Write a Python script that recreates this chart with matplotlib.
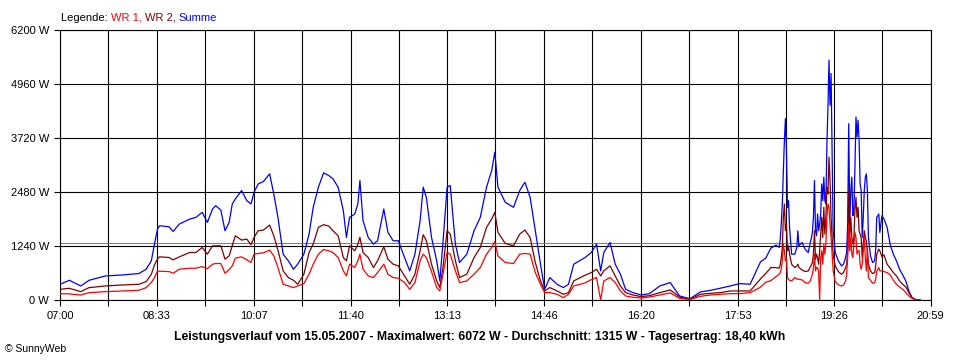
import matplotlib
matplotlib.use("Agg")
import matplotlib.pyplot as plt

zeiten = [
    "07:00", "07:09", "07:20", "07:28", "07:44", "08:00", "08:16", "08:23", "08:28", "08:31",
    "08:34", "08:36", "08:45", "08:49", "08:55", "09:05", "09:11", "09:17", "09:22", "09:27",
    "09:30", "09:35", "09:39", "09:43", "09:46",
    "09:49", "09:55", "10:00", "10:04", "10:07", "10:11", "10:16", "10:22", "10:26", "10:30",
    "10:35", "10:40", "10:45", "10:49", "10:55", "11:00", "11:04", "11:09", "11:14", "11:19",
    "11:23", "11:28", "11:33", "11:36", "11:39", "11:44", "11:47", "11:49", "11:52", "11:57",
    "12:02", "12:06", "12:12", "12:16", "12:21", "12:26",
    "12:32", "12:37", "12:42", "12:47", "12:50", "12:53", "12:58", "13:03", "13:06", "13:09",
    "13:13", "13:16", "13:21", "13:25", "13:32", "13:39", "13:45", "13:51", "13:56", "13:59",
    "14:02", "14:09", "14:17", "14:23", "14:28", "14:33", "14:38", "14:43", "14:47", "14:52",
    "14:59", "15:05", "15:10", "15:15",
    "15:26", "15:32", "15:37", "15:41", "15:44", "15:50", "15:55", "16:00", "16:05", "16:12",
    "16:20", "16:28", "16:38", "16:48", "16:57", "17:07", "17:17", "17:27", "17:36", "17:46",
    "17:55", "18:05",
    "18:15", "18:20", "18:25", "18:30", "18:33", "18:34", "18:35", "18:36", "18:37", "18:38",
    "18:39", "18:40", "18:41", "18:42", "18:43", "18:45", "18:48", "18:50", "18:51", "18:52",
    "18:55", "18:58", "19:01", "19:03", "19:04", "19:05", "19:06", "19:07", "19:08", "19:09",
    "19:10", "19:11", "19:12", "19:13", "19:14", "19:15", "19:16", "19:17", "19:18", "19:19",
    "19:20", "19:21", "19:22", "19:23", "19:24", "19:25", "19:27", "19:30", "19:33", "19:35",
    "19:37", "19:38", "19:39", "19:40", "19:41", "19:42", "19:43", "19:44", "19:45", "19:46",
    "19:47", "19:48", "19:49", "19:50", "19:51", "19:52", "19:53", "19:54", "19:55", "19:56",
    "19:57", "19:58", "19:59", "20:01", "20:03", "20:05", "20:06", "20:07", "20:09", "20:10",
    "20:12", "20:14", "20:17", "20:20", "20:23", "20:26", "20:29", "20:32", "20:35", "20:38",
    "20:41", "20:44", "20:47", "20:49",
]

summe = [
    361, 453, 322, 453, 553, 575, 607, 707, 899, 1283,
    1629, 1705, 1682, 1575, 1744, 1859, 1897, 2013, 1782, 2089,
    2166, 2066, 1590, 1782, 2205,
    2321, 2513, 2282, 2205, 2474, 2666, 2720, 2897, 2436, 1898,
    1053, 899, 707, 822, 1053, 1514, 2128, 2590, 2920, 2858,
    2782, 2590, 2052, 1437, 1898, 1975, 2205, 2743, 1821, 1437,
    1283, 1360, 2090, 1552, 1360, 1360,
    976, 669, 1053, 1821, 2590, 2359, 1437, 899, 438, 1322,
    2590, 2628, 1283, 861, 1053, 1591, 1898, 2590, 2974, 3396,
    2590, 2244, 2128, 2513, 2705, 2359, 1591, 822, 246, 515,
    361, 285, 361, 822,
    976, 1091, 1283, 669, 1091, 1322, 822, 592, 246, 169,
    115, 146, 323, 400, 92, 31, 184, 223, 269, 323,
    377, 361,
    876, 960, 1191, 1260, 1206, 1398, 1744, 2205, 2973, 3665,
    4164, 3434, 2128, 2282, 1667, 1052, 1052, 1206, 1590, 1245,
    1321, 1168, 1091, 1321, 1421, 1552, 1898, 2743, 1590, 1475,
    1974, 1590, 1744, 1974, 2666, 2282, 2820, 2282, 2205, 3588,
    4433, 5508, 4471, 5201, 3434, 1590, 1091, 899, 783, 822,
    976, 1091, 1744, 4049, 1744, 2512, 2820, 1936, 2052, 3050,
    4203, 3742, 4126, 3665, 2666, 2512, 1436, 1898, 2512, 2820,
    2896, 2512, 1436, 1014, 860, 899, 1168, 1898, 1974, 1552,
    1936, 1859, 1667, 1267, 1052, 899, 707, 576, 438, 207,
    54, 15, 0, 0,
]

wr2 = [
    246, 269, 192, 284, 323, 345, 361, 422, 591, 800,
    950, 991, 976, 922, 991, 1091, 1091, 1206, 1052, 1244,
    1244, 1244, 937, 1014, 1250,
    1475, 1376, 1399, 1268, 1437, 1591, 1606, 1721, 1475, 1145,
    669, 515, 454, 361, 592, 1091, 1284, 1668, 1729, 1698,
    1591, 1475, 976, 899, 1245, 1130, 1284, 1437, 1091, 976,
    745, 899, 1222, 937, 822, 784,
    553, 361, 592, 1130, 1498, 1360, 822, 438, 285, 745,
    1591, 1514, 899, 515, 592, 976, 1206, 1668, 1860, 2013,
    1552, 1299, 1245, 1514, 1606, 1437, 861, 438, 208, 285,
    208, 131, 169, 438,
    569, 630, 707, 553, 669, 784, 553, 323, 169, 115,
    77, 100, 169, 231, 69, 15, 131, 154, 169, 208,
    208, 208,
    484, 607, 745, 745, 730, 806, 975, 1206, 1898, 2205,
    1590, 1744, 1129, 1245, 1052, 822, 745, 784, 822, 745,
    691, 653, 668, 760, 806, 860, 1052, 1590, 937, 1052,
    976, 822, 1129, 1513, 1898, 1436, 2128, 1513, 1898, 2589,
    2436, 3280, 2743, 1898, 1436, 1052, 784, 653, 591, 630,
    745, 822, 1129, 2512, 1436, 1898, 1436, 1283, 1436, 2052,
    2359, 1898, 2128, 1590, 1513, 1436, 976, 1283, 1590, 1436,
    1360, 1129, 822, 668, 607, 630, 784, 1052, 1168, 1129,
    991, 1037, 822, 730, 630, 553, 438, 361, 300, 169,
    54, 15, 0, 0,
]

wr1 = [
    146, 140, 115, 169, 192, 207, 223, 284, 400, 515,
    668, 660, 653, 614, 707, 730, 730, 768, 720, 822,
    837, 837, 615, 700, 783,
    961, 991, 922, 861, 1053, 1068, 1084, 1145, 1014, 745,
    362, 323, 285, 323, 377, 592, 822, 1053, 1160, 1130,
    1091, 976, 669, 553, 822, 745, 899, 1053, 707, 553,
    515, 630, 822, 592, 515, 500,
    400, 246, 400, 899, 1053, 976, 653, 285, 208, 592,
    1091, 1053, 669, 400, 438, 592, 745, 1053, 1206, 1345,
    1014, 861, 838, 1053, 1068, 1053, 630, 362, 169, 169,
    131, 54, 131, 323,
    392, 469, 515, 0, 438, 515, 400, 208, 92, 62,
    46, 69, 115, 161, 38, 8, 85, 115, 131, 146,
    146, 169,
    292, 407, 446, 538, 591, 622, 707, 899, 1283, 1129,
    899, 976, 515, 476, 453, 438, 515, 476, 484, 476,
    461, 400, 384, 438, 515, 591, 745, 1052, 668, 745,
    745, 668, 0, 976, 1129, 822, 1283, 1052, 1283, 1898,
    2205, 2128, 1744, 1436, 1052, 668, 423, 346, 323, 346,
    438, 591, 976, 1744, 1129, 1436, 1052, 976, 1283, 1552,
    1436, 1052, 1129, 1129, 822, 707, 822, 1129, 1436, 976,
    668, 1206, 515, 453, 384, 400, 476, 668, 745, 668,
    668, 653, 630, 576, 453, 361, 300, 246, 169, 92,
    38, 8, 0, 0,
]

x_labels = ["07:00", "08:33", "10:07", "11:40", "13:13", "14:46", "16:20", "17:53", "19:26", "20:59"]
y_ticks = [0, 1240, 2480, 3720, 4960, 6200]
durchschnitt = 1315

titel = ("Leistungsverlauf vom 15.05.2007 - Maximalwert: 6072 W - "
         "Durchschnitt: 1315 W - Tagesertrag: 18,40 kWh")

c_wr1 = "#ff0000"
c_wr2 = "#800000"
c_summe = "#0000ff"


def minuten(hhmm):
    h, m = hhmm.split(":")
    return int(h) * 60 + int(m)


plt.rcParams["font.family"] = ["Liberation Sans", "DejaVu Sans"]

t = [minuten(z) for z in zeiten]
xt = [minuten(z) for z in x_labels]
xt_mid = [(a + b) / 2 for a, b in zip(xt[:-1], xt[1:])]

fig = plt.figure(figsize=(9.6, 3.6), dpi=100)
ax = fig.add_axes([60 / 960, 1 - 300 / 360, 870.7 / 960, 270 / 360])

ax.set_xlim(xt[0], xt[-1])
ax.set_ylim(0, 6200)

for v in xt + xt_mid:
    ax.axvline(v, color="black", lw=0.8, zorder=1)
for v in y_ticks:
    ax.axhline(v, color="black", lw=0.8, zorder=1)
ax.axhline(durchschnitt, color="#808080", lw=0.8, zorder=1)

ax.plot(t, summe, color=c_summe, lw=0.9, zorder=3)
ax.plot(t, wr2, color=c_wr2, lw=0.9, zorder=4)
ax.plot(t, wr1, color=c_wr1, lw=0.9, zorder=5)

ax.set_xticks(xt)
ax.set_xticklabels(x_labels)
ax.set_xticks(xt_mid, minor=True)
ax.set_yticks(y_ticks)
ax.set_yticklabels([f"{v} W" for v in y_ticks])
ax.tick_params(which="both", direction="out", length=4, width=0.8, color="black",
               labelsize=8, pad=4)
for s in ax.spines.values():
    s.set_linewidth(0.8)

fig.text(0.5, 1 - 337 / 360, titel, ha="center", va="center", fontsize=8.8, fontweight="bold")
fig.text(5 / 960, 1 - 349 / 360, "\u00a9 SunnyWeb", ha="left", va="center", fontsize=7.5)

# Legende mit farbigen Teilen
teile = [("Legende: ", "black"), ("WR 1, ", c_wr1), ("WR 2, ", c_wr2), ("Summe", c_summe)]
fig.canvas.draw()
r = fig.canvas.get_renderer()
x0 = 61
prefix = ""
for s, c in teile:
    if prefix:
        a = fig.text(0, 0, prefix + "|", fontsize=8)
        b = fig.text(0, 0, "|", fontsize=8)
        w = a.get_window_extent(r).width - b.get_window_extent(r).width
        a.remove()
        b.remove()
    else:
        w = 0
    fig.text((x0 + w) / 960, 1 - 21 / 360, s, color=c, ha="left", va="baseline", fontsize=8)
    prefix += s

fig.savefig("out.png", dpi=100)
